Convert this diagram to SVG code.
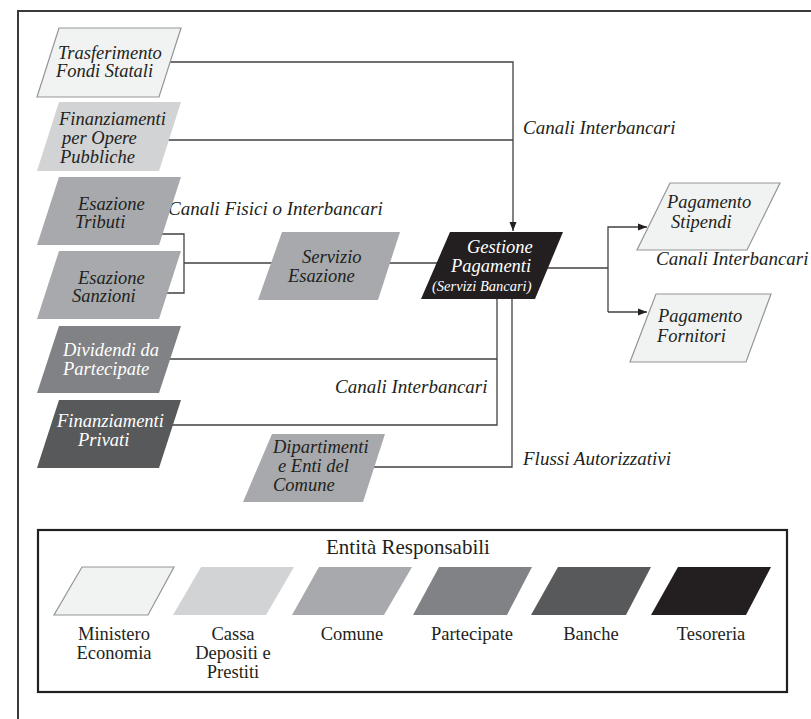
<svg xmlns="http://www.w3.org/2000/svg" width="811" height="719" viewBox="0 0 811 719">
  <defs>
    <marker id="arrow" markerUnits="userSpaceOnUse" markerWidth="10" markerHeight="8" refX="9" refY="4" orient="auto">
      <path d="M0,0.5 L9,4 L0,7.5 Z" fill="#231f20"/>
    </marker>
    <style>
      .frame { fill: none; stroke: #3a3a3c; stroke-width: 2; }
      .legend-box { fill: #ffffff; stroke: #231f20; stroke-width: 2.2; }
      .wire { fill: none; stroke: #414042; stroke-width: 1.3; }
      .t { font-family: "Liberation Serif", "DejaVu Serif", serif; font-style: italic; font-size: 18.5px; fill: #231f20; }
      .w { fill: #ffffff; }
      .small { font-size: 14.5px; }
      .lbl { font-family: "Liberation Serif", "DejaVu Serif", serif; font-style: italic; font-size: 19px; fill: #231f20; }
      .lg { font-family: "Liberation Serif", "DejaVu Serif", serif; font-size: 18.5px; fill: #231f20; text-anchor: middle; }
      .lg-title { font-size: 21px; }
      .c-min { fill: #f1f2f2; stroke: #939598; stroke-width: 1.2; }
      .c-cdp { fill: #d1d3d4; }
      .c-com { fill: #a7a9ac; }
      .c-par { fill: #808285; }
      .c-ban { fill: #58595b; }
      .c-tes { fill: #231f20; }
    </style>
  </defs>

  <!-- outer frame: right and bottom sides run past the page edge -->
  <rect id="frame" class="frame" x="18" y="11" width="1000" height="1000"/>

  <!-- connectors -->
  <g id="connectors">
    <path class="wire" d="M165,62 H513 V231" marker-end="url(#arrow)"/>
    <path class="wire" d="M165,140 H513"/>
    <path class="wire" d="M155,234 H184 V293 H160"/>
    <path class="wire" d="M184,263 H275"/>
    <path class="wire" d="M385,263 H440"/>
    <path class="wire" d="M545,268 H608"/>
    <path class="wire" d="M608,312 V227 H647" marker-end="url(#arrow)"/>
    <path class="wire" d="M608,312 H647" marker-end="url(#arrow)"/>
    <path class="wire" d="M165,359 H497"/>
    <path class="wire" d="M165,425 H497 V296"/>
    <path class="wire" d="M370,467 H512 V296"/>
  </g>

  <!-- connector labels -->
  <g id="labels">
    <text class="lbl" x="523" y="134">Canali Interbancari</text>
    <text class="lbl" x="168" y="215">Canali Fisici o Interbancari</text>
    <text class="lbl" x="656" y="265">Canali Interbancari</text>
    <text class="lbl" x="335" y="393">Canali Interbancari</text>
    <text class="lbl" x="523" y="465">Flussi Autorizzativi</text>
  </g>

  <!-- source nodes -->
  <g id="trasferimento-fondi-statali">
    <polygon class="c-min" points="59,28 181,28 159,97 37,97"/>
    <text class="t" x="58" y="59">Trasferimento</text>
    <text class="t" x="56" y="77">Fondi Statali</text>
  </g>
  <g id="finanziamenti-opere-pubbliche">
    <polygon class="c-cdp" points="59,102 181,102 159,171 37,171"/>
    <text class="t" x="59" y="125">Finanziamenti</text>
    <text class="t" x="62" y="144">per Opere</text>
    <text class="t" x="60" y="163">Pubbliche</text>
  </g>
  <g id="esazione-tributi">
    <polygon class="c-com" points="59,177 181,177 159,245 37,245"/>
    <text class="t" x="78" y="210">Esazione</text>
    <text class="t" x="75" y="228">Tributi</text>
  </g>
  <g id="esazione-sanzioni">
    <polygon class="c-com" points="59,251 181,251 159,319 37,319"/>
    <text class="t" x="78" y="284">Esazione</text>
    <text class="t" x="72" y="302">Sanzioni</text>
  </g>
  <g id="dividendi-partecipate">
    <polygon class="c-par" points="59,326 181,326 159,393 37,393"/>
    <text class="t w" x="63" y="356">Dividendi da</text>
    <text class="t w" x="63" y="375">Partecipate</text>
  </g>
  <g id="finanziamenti-privati">
    <polygon class="c-ban" points="59,400 181,400 159,468 37,468"/>
    <text class="t w" x="57" y="427">Finanziamenti</text>
    <text class="t w" x="78" y="446">Privati</text>
  </g>

  <!-- intermediate nodes -->
  <g id="servizio-esazione">
    <polygon class="c-com" points="282,232 400,232 378,300 258,300"/>
    <text class="t" x="302" y="263">Servizio</text>
    <text class="t" x="288" y="282">Esazione</text>
  </g>
  <g id="dipartimenti-enti-comune">
    <polygon class="c-com" points="272,434 385,434 363,502 243,502"/>
    <text class="t" x="273" y="453">Dipartimenti</text>
    <text class="t" x="278" y="472">e Enti del</text>
    <text class="t" x="273" y="491">Comune</text>
  </g>
  <g id="gestione-pagamenti">
    <polygon class="c-tes" points="450,232 563,232 535,299 421,299"/>
    <text class="t w" x="467" y="253">Gestione</text>
    <text class="t w" x="451" y="272">Pagamenti</text>
    <text class="t w small" x="432" y="291">(Servizi Bancari)</text>
  </g>

  <!-- destination nodes -->
  <g id="pagamento-stipendi">
    <polygon class="c-min" points="670,183 780,183 747,250 637,250"/>
    <text class="t" x="667" y="208">Pagamento</text>
    <text class="t" x="671" y="228">Stipendi</text>
  </g>
  <g id="pagamento-fornitori">
    <polygon class="c-min" points="656,294 771,294 746,362 630,362"/>
    <text class="t" x="658" y="322">Pagamento</text>
    <text class="t" x="657" y="342">Fornitori</text>
  </g>

  <!-- legend -->
  <g id="legend">
    <rect class="legend-box" x="38" y="530" width="749" height="162"/>
    <text class="lg lg-title" x="408" y="554">Entità Responsabili</text>
    <polygon class="c-min" points="82,567 174,567 148,615 54,615"/>
    <polygon class="c-cdp" points="201,567 294,567 266,615 173,615"/>
    <polygon class="c-com" points="319,567 412,567 384,615 292,615"/>
    <polygon class="c-par" points="439,567 532,567 507,615 413,615"/>
    <polygon class="c-ban" points="558,567 651,567 626,615 531,615"/>
    <polygon class="c-tes" points="678,567 771,567 746,615 651,615"/>
    <text class="lg" x="114" y="640">Ministero</text>
    <text class="lg" x="114" y="659">Economia</text>
    <text class="lg" x="233" y="640">Cassa</text>
    <text class="lg" x="233" y="659">Depositi e</text>
    <text class="lg" x="233" y="678">Prestiti</text>
    <text class="lg" x="352" y="640">Comune</text>
    <text class="lg" x="472" y="640">Partecipate</text>
    <text class="lg" x="591" y="640">Banche</text>
    <text class="lg" x="711" y="640">Tesoreria</text>
  </g>
</svg>
